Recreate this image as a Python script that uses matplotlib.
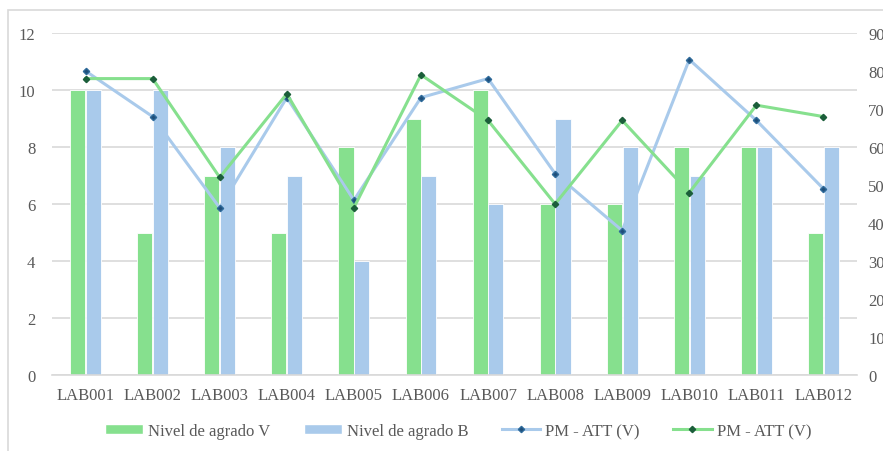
import numpy as np
import matplotlib
matplotlib.use("Agg")
import matplotlib.pyplot as plt
from matplotlib.patches import Rectangle
from matplotlib.lines import Line2D
from matplotlib.patches import Patch

# Data
labs = ["LAB001", "LAB002", "LAB003", "LAB004", "LAB005", "LAB006",
        "LAB007", "LAB008", "LAB009", "LAB010", "LAB011", "LAB012"]
agrado_v = [10, 5, 7, 5, 8, 9, 10, 6, 6, 8, 8, 5]
agrado_b = [10, 10, 8, 7, 4, 7, 6, 9, 8, 7, 8, 8]
pm_att_b = [80, 68, 44, 73, 46, 73, 78, 53, 38, 83, 67, 49]
pm_att_v = [78, 78, 52, 74, 44, 79, 67, 45, 67, 48, 71, 68]

green = "#86E08E"
blue = "#A9CAEB"
txt = "#595959"
grid = "#D9D9D9"

plt.rcParams["font.family"] = ["Liberation Serif", "DejaVu Serif"]

fig = plt.figure(figsize=(8.83, 4.52), dpi=100)
ax = fig.add_axes([52 / 883, 1 - 376 / 452, (857 - 52) / 883, (376 - 34) / 452])

# outer chart border
fig.patches.append(Rectangle((8 / 883, -0.1), 1.2, 1 - 11 / 452 + 0.1,
                             transform=fig.transFigure, fill=False,
                             edgecolor=grid, linewidth=1.2))

x = np.arange(len(labs))
w = 0.225
ax.bar(x - w / 2 - 0.005, agrado_v, width=w, color=green, edgecolor="white",
       linewidth=0.6, zorder=2)
ax.bar(x + w / 2 + 0.005, agrado_b, width=w, color=blue, edgecolor="white",
       linewidth=0.6, zorder=2)

ax.set_xlim(-0.5, len(labs) - 0.5)
ax.set_ylim(0, 12)
ax.set_yticks(np.arange(0, 13, 2))
ax.set_xticks(x)
ax.set_xticklabels(labs)
ax.grid(axis="y", color=grid, linewidth=1.2, zorder=0)
ax.set_axisbelow(True)
for s in ["top", "right", "left"]:
    ax.spines[s].set_visible(False)
ax.spines["bottom"].set_color(grid)
ax.spines["bottom"].set_linewidth(1.2)
ax.tick_params(axis="both", length=0, labelsize=12, colors=txt)
ax.tick_params(axis="y", pad=12)
ax.tick_params(axis="x", pad=9)

ax2 = ax.twinx()
ax2.plot(x, pm_att_b, color=blue, linewidth=2.2, marker="D", markersize=3.2,
         markerfacecolor="#1F4E79", markeredgecolor="#2E6A9A", zorder=3)
ax2.plot(x, pm_att_v, color=green, linewidth=2.2, marker="D", markersize=3.2,
         markerfacecolor="#1B5E3A", markeredgecolor="#1B5E3A", zorder=4)
ax2.set_ylim(0, 90)
ax2.set_yticks(np.arange(0, 91, 10))
for s in ax2.spines.values():
    s.set_visible(False)
ax2.tick_params(axis="y", length=0, labelsize=12, colors=txt, pad=8)

handles = [
    Patch(facecolor=green, edgecolor="white"),
    Patch(facecolor=blue, edgecolor="white"),
    Line2D([], [], color=blue, linewidth=2.2, marker="D", markersize=3.2,
           markerfacecolor="#1F4E79", markeredgecolor="#2E6A9A"),
    Line2D([], [], color=green, linewidth=2.2, marker="D", markersize=3.2,
           markerfacecolor="#1B5E3A", markeredgecolor="#1B5E3A"),
]
names = ["Nivel de agrado V", "Nivel de agrado B", "PM - ATT (V)", "PM - ATT (V)"]
leg = fig.legend(handles, names, loc="center", bbox_to_anchor=(458 / 883, 1 - 432 / 452),
                 ncol=4, frameon=False, fontsize=12, handlelength=2.3,
                 handleheight=0.6, columnspacing=2.0, handletextpad=0.3)
for t in leg.get_texts():
    t.set_color(txt)

fig.savefig("out.png", dpi=100)
